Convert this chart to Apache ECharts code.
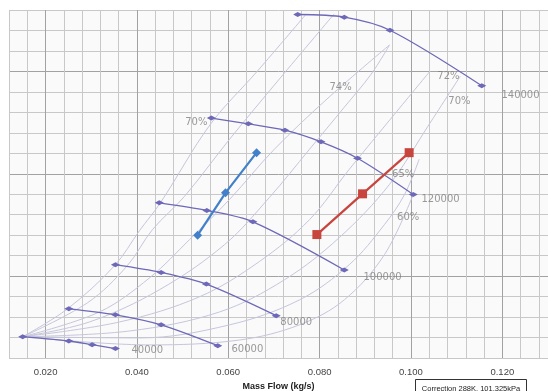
<html lang="en">
<head>
    <meta charset="UTF-8">
    <title>Compressor map</title>
    <script type="text/javascript" src="https://cdn.jsdelivr.net/npm/echarts@6/dist/echarts.min.js"></script>
    <style>
        body { margin: 0; background: #fff; }
        #map { width: 548px; height: 391px; }
    </style>
</head>
<body>
<div id="map"></div>
<script>
    // speed lines [mass flow, pressure ratio]
    var speed40000 = [[0.0150, 1.204], [0.0251, 1.183], [0.0302, 1.165], [0.0353, 1.146]];
    var speed60000 = [[0.0251, 1.340], [0.0353, 1.311], [0.0453, 1.262], [0.0577, 1.160]];
    var speed80000 = [[0.0353, 1.556], [0.0453, 1.518], [0.0552, 1.461], [0.0705, 1.307]];
    var speed100000 = [[0.0449, 1.858], [0.0553, 1.821], [0.0654, 1.765], [0.0854, 1.530]];
    var speed120000 = [[0.0563, 2.272], [0.0644, 2.244], [0.0724, 2.213], [0.0803, 2.156], [0.0883, 2.076], [0.1005, 1.899]];
    var speed140000 = [[0.0752, 2.778], [0.0854, 2.765], [0.0954, 2.701], [0.1155, 2.430]];

    // operating lines
    var blueLine = [[0.0533, 1.700], [0.0594, 1.907], [0.0662, 2.103]];
    var redLine = [[0.0794, 1.703], [0.0894, 1.902], [0.0996, 2.103]];

    // efficiency contours
    var eff1 = [[0.0150, 1.204], [0.0248, 1.340], [0.0351, 1.551], [0.0406, 1.723], [0.0452, 1.860], [0.0561, 2.242], [0.0664, 2.502], [0.0771, 2.781]];
    var eff2 = [[0.0150, 1.204], [0.0292, 1.370], [0.0379, 1.551], [0.0434, 1.727], [0.0504, 1.889], [0.0603, 2.169], [0.0712, 2.463], [0.0832, 2.781]];
    var eff74a = [[0.0150, 1.204], [0.0318, 1.325], [0.0428, 1.492], [0.0515, 1.678], [0.0603, 1.875], [0.0701, 2.120], [0.0821, 2.375], [0.0953, 2.629]];
    var eff74b = [[0.0953, 2.629], [0.0913, 2.487], [0.0854, 2.325], [0.0778, 2.120], [0.0690, 1.884], [0.0592, 1.654], [0.0449, 1.433], [0.0296, 1.276], [0.0150, 1.204]];
    var eff72 = [[0.0150, 1.204], [0.0362, 1.276], [0.0537, 1.399], [0.0668, 1.571], [0.0778, 1.776], [0.0865, 2.022], [0.0964, 2.291], [0.1042, 2.502]];
    var eff70 = [[0.0150, 1.204], [0.0384, 1.232], [0.0581, 1.325], [0.0723, 1.482], [0.0843, 1.688], [0.0953, 1.948], [0.1040, 2.242], [0.1108, 2.477]];
    var eff65 = [[0.0150, 1.204], [0.0406, 1.198], [0.0603, 1.262], [0.0756, 1.384], [0.0865, 1.556], [0.0942, 1.752], [0.0986, 1.899], [0.1018, 2.071]];
    var eff60 = [[0.0150, 1.204], [0.0428, 1.164], [0.0625, 1.188], [0.0756, 1.262], [0.0854, 1.384], [0.0942, 1.605], [0.1005, 1.899]];

    // text on the map
    var effLabels = [[0.0530, 2.252, '70%'], [0.0846, 2.424, '74%'], [0.1082, 2.477, '72%'], [0.1106, 2.355, '70%'], [0.0983, 1.997, '65%'], [0.0994, 1.786, '60%']];
    var speedLabels = [[0.0388, 1.139, '40000'], [0.0607, 1.144, '60000'], [0.0714, 1.276, '80000'], [0.0896, 1.492, '100000'], [0.1023, 1.875, '120000'], [0.1198, 2.384, '140000']];

    var speedColor = '#6d68b8';
    var effColor = '#c6c6dc';
    var light = '#c8c8c8';
    var dark = '#a2a2a2';

    function effSeries(data) {
        return {
            type: 'line',
            data: data,
            smooth: 0.35,
            showSymbol: false,
            lineStyle: {color: effColor, width: 1},
            silent: true,
            z: 1
        };
    }

    function speedSeries(name, data) {
        return {
            name: name,
            type: 'line',
            data: data,
            smooth: 0.3,
            symbol: 'diamond',
            symbolSize: [9, 5],
            itemStyle: {color: speedColor},
            lineStyle: {color: speedColor, width: 1.3},
            z: 3
        };
    }

    var series = [
        effSeries(eff1), effSeries(eff2), effSeries(eff74a), effSeries(eff74b),
        effSeries(eff72), effSeries(eff70), effSeries(eff65), effSeries(eff60),
        speedSeries('40000', speed40000),
        speedSeries('60000', speed60000),
        speedSeries('80000', speed80000),
        speedSeries('100000', speed100000),
        speedSeries('120000', speed120000),
        speedSeries('140000', speed140000),
        {
            type: 'line',
            data: blueLine,
            symbol: 'diamond',
            symbolSize: 9,
            itemStyle: {color: '#4281c9'},
            lineStyle: {color: '#4281c9', width: 2.2},
            z: 4
        },
        {
            type: 'line',
            data: redLine,
            symbol: 'rect',
            symbolSize: 9,
            itemStyle: {color: '#c8453e'},
            lineStyle: {color: '#c8453e', width: 2.2},
            z: 4
        },
        {
            type: 'scatter',
            data: effLabels,
            symbolSize: 0,
            label: {
                show: true,
                position: 'inside',
                formatter: function (p) { return p.data[2]; },
                fontFamily: 'DejaVu Sans',
                fontSize: 10,
                color: '#7f7f7f'
            },
            z: 5
        },
        {
            type: 'scatter',
            data: speedLabels,
            symbolSize: 0,
            label: {
                show: true,
                position: 'right',
                distance: 0,
                formatter: function (p) { return p.data[2]; },
                fontFamily: 'DejaVu Sans',
                fontSize: 10,
                color: '#7f7f7f'
            },
            z: 5
        }
    ];

    var mychart = echarts.init(document.getElementById('map'));
    var option = {
        animation: false,
        grid: {
            left: 9,
            right: 0,
            top: 10,
            bottom: 33,
            show: true,
            backgroundColor: '#fafafa',
            borderWidth: 0,
            containLabel: false,
            outerBoundsMode: 'none'
        },
        xAxis: {
            type: 'value',
            min: 0.012,
            max: 0.130,
            interval: 0.004,
            name: 'Mass Flow (kg/s)',
            nameLocation: 'middle',
            nameGap: 22,
            nameTextStyle: {fontFamily: 'Liberation Sans', fontWeight: 'bold', fontSize: 9, color: '#222'},
            axisLine: {show: false},
            axisTick: {show: false},
            axisLabel: {
                margin: 9,
                fontFamily: 'Liberation Sans',
                fontSize: 9.5,
                color: '#444',
                showMinLabel: true,
                showMaxLabel: false,
                formatter: function (v) {
                    var k = v / 0.02;
                    return Math.abs(k - Math.round(k)) < 1e-6 ? v.toFixed(3) : '';
                }
            },
            splitLine: {show: true, lineStyle: {color: [light, light, dark, light, light], width: 1}}
        },
        yAxis: {
            type: 'value',
            min: 1.1,
            max: 2.8,
            interval: 0.1,
            axisLine: {show: false},
            axisTick: {show: false},
            axisLabel: {show: false},
            splitLine: {show: true, lineStyle: {color: [light, light, light, light, dark], width: 1}}
        },
        graphic: [
            {
                type: 'group',
                left: 415,
                top: 379,
                children: [
                    {type: 'rect', shape: {x: 0, y: 0, width: 111, height: 20}, style: {fill: '#fff', stroke: '#333', lineWidth: 1}},
                    {type: 'text', x: 55.5, y: 9, style: {text: 'Correction 288K, 101.325kPa', fontFamily: 'Liberation Sans', fontSize: 7.5, fill: '#222', align: 'center', verticalAlign: 'middle'}}
                ]
            }
        ],
        series: series
    };
    mychart.setOption(option);
</script>
</body>
</html>
